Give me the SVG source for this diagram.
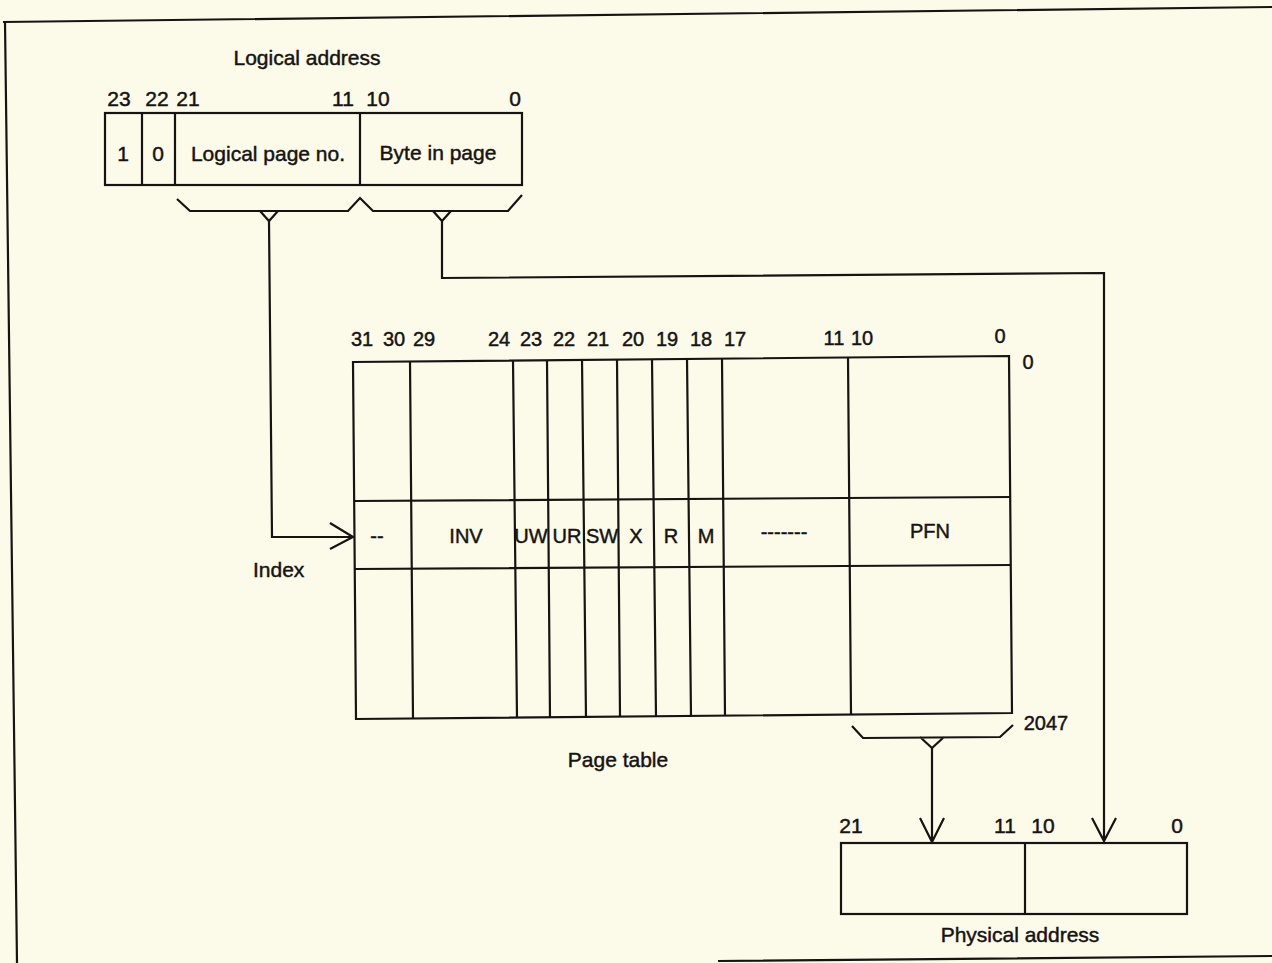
<svg xmlns="http://www.w3.org/2000/svg" width="1272" height="963" viewBox="0 0 1272 963">
<style>
.ln{fill:none;stroke:#161412;stroke-width:2.2;stroke-linejoin:miter}
.t{font-family:"Liberation Sans",Arial,sans-serif;font-size:21px;fill:#161412;stroke:#161412;stroke-width:0.45}
.c{text-anchor:middle}
.s{font-size:20px}
</style>
<rect width="1272" height="963" fill="#fcfae9"/>
<g id="frame">
<path class="ln" d="M3,22 L1272,7 M5,22 L17,963 M718,961 L1272,956" stroke-width="2.6"/>
</g>
<g id="logical-address">
<rect class="ln" x="105" y="113" width="417" height="72"/>
<path class="ln" d="M142,113 V185 M175,113 V185 M360,113 V185"/>
<text class="t c" x="307" y="65">Logical address</text>
<text class="t c" x="119" y="106">23</text>
<text class="t c" x="157" y="106">22</text>
<text class="t c" x="188" y="106">21</text>
<text class="t c" x="343" y="106">11</text>
<text class="t c" x="378" y="106">10</text>
<text class="t c" x="515" y="106">0</text>
<text class="t c" x="123" y="161">1</text>
<text class="t c" x="158" y="161">0</text>
<text class="t c" x="268" y="161">Logical page no.</text>
<text class="t c" x="438" y="160">Byte in page</text>
</g>
<g id="page-table">
<path class="ln" d="M353,362 L1009,356 L1012,713 L356,719 Z"/>
<path class="ln" d="M354,501 L1010,497 M355,569 L1011,565"/>
<path class="ln" d="M410,361 L413,719 M513,360 L517,718 M547,360 L550,718 M582,359 L586,718 M617,359 L620,717 M652,359 L656,717 M687,358 L691,717 M722,358 L725,716 M848,357 L851,715"/>
<text class="t c s" x="362" y="346">31</text>
<text class="t c s" x="394" y="346">30</text>
<text class="t c s" x="424" y="346">29</text>
<text class="t c s" x="499" y="346">24</text>
<text class="t c s" x="531" y="346">23</text>
<text class="t c s" x="564" y="346">22</text>
<text class="t c s" x="598" y="346">21</text>
<text class="t c s" x="633" y="346">20</text>
<text class="t c s" x="667" y="346">19</text>
<text class="t c s" x="701" y="346">18</text>
<text class="t c s" x="735" y="346">17</text>
<text class="t c s" x="834" y="345">11</text>
<text class="t c s" x="862" y="345">10</text>
<text class="t c s" x="1000" y="343">0</text>
<text class="t c s" x="1028" y="369">0</text>
<text class="t c s" x="1046" y="730">2047</text>
<text class="t c s" x="377" y="543">--</text>
<text class="t c s" x="466" y="543">INV</text>
<text class="t c s" x="531" y="543">UW</text>
<text class="t c s" x="567" y="543">UR</text>
<text class="t c s" x="602" y="543">SW</text>
<text class="t c s" x="636" y="543">X</text>
<text class="t c s" x="671" y="543">R</text>
<text class="t c s" x="706" y="543">M</text>
<text class="t c s" x="784" y="539">-------</text>
<text class="t c s" x="930" y="538">PFN</text>
<text class="t c" x="618" y="767">Page table</text>
</g>
<g id="physical-address">
<rect class="ln" x="841" y="843" width="346" height="71"/>
<path class="ln" d="M1025,843 V914"/>
<text class="t c" x="851" y="833">21</text>
<text class="t c" x="1005" y="833">11</text>
<text class="t c" x="1043" y="833">10</text>
<text class="t c" x="1177" y="833">0</text>
<text class="t c" x="1020" y="942">Physical address</text>
</g>
<g id="index-label">
<text class="t" x="253" y="577">Index</text>
</g>
<g id="connectors">
<path class="ln" d="M177,199 L190,211 L348,211 L360,198 L373,211 L508,211 L522,195"/>
<path class="ln" d="M260,211 L269,221 L278,211 M433,211 L442,221 L451,211"/>
<path class="ln" d="M269,221 L272,537 L353,537 M330,523 L353,537 L330,549"/>
<path class="ln" d="M442,221 V278 L1104,273 V841 M1092,818 L1104,841 L1116,818"/>
<path class="ln" d="M852,726 L863,738 L1000,737 L1013,725 M920,737 L932,748 L944,737"/>
<path class="ln" d="M932,748 V842 M920,818 L932,842 L944,818"/>
</g>
</svg>
